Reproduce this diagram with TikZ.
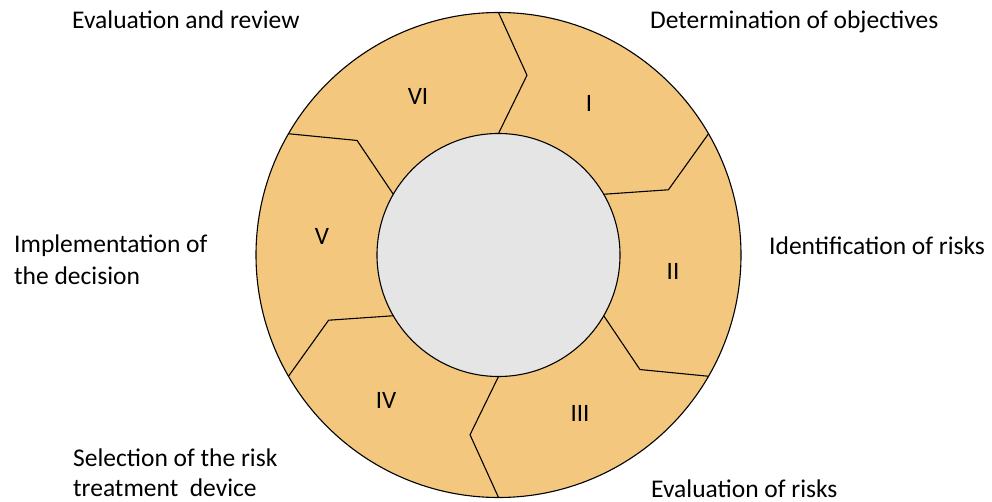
\documentclass[tikz,border=0pt]{standalone}
\usepackage{fontspec}
\setmainfont{Carlito}
\definecolor{ringfill}{RGB}{243,200,126}
\definecolor{hubfill}{RGB}{229,229,229}
\begin{document}
\begin{tikzpicture}[x=1pt,y=1pt,
  lbl/.style={font=\fontsize{25.5}{32}\selectfont, inner sep=0pt, text=black},
  roman/.style={font=\fontsize{25}{28}\selectfont, inner sep=0pt},
  edge/.style={draw=black, line width=1.1pt, line join=miter}]
\useasboundingbox (0,0) rectangle (992,501);
\coordinate (c) at (498.5,246);
\node[circle, draw=black, line width=1.1pt, fill=ringfill, minimum size=485pt, inner sep=0pt] (outer) at (c) {};
\begin{scope}[shift={(c)}]
  \foreach \t [count=\i] in {90,30,-30,-90,-150,150} {
    \coordinate (in\i) at (\t:121.5);
    \coordinate (k\i) at (\t-9:182);
    \coordinate (out\i) at (\t:242.5);
    \draw[edge] (in\i) -- (k\i) -- (out\i);
  }
\end{scope}
\node[circle, draw=black, line width=1.1pt, fill=hubfill, minimum size=243pt, inner sep=0pt] (hub) at (c) {};
\node[roman] (r1) at (589,398) {I};
\node[roman] (r2) at (673,230) {II};
\node[roman] (r3) at (580,88) {III};
\node[roman] (r4) at (386,101) {IV};
\node[roman] (r5) at (322,265) {V};
\node[roman] (r6) at (418,405) {VI};
\node[lbl, anchor=base west] (t6) at (72,472) {Evaluation and review};
\node[lbl, anchor=base west] (t1) at (650,472) {Determination of objectives};
\node[lbl, anchor=base west] (t2) at (769,246) {Identification of risks};
\node[lbl, anchor=north west, align=left] (t5) at (14,266) {Implementation of\\the decision};
\node[lbl, font=\fontsize{25.5}{30}\selectfont, anchor=north west, align=left] (t4) at (73,52) {Selection of the risk\\treatment\ \ device};
\node[lbl, anchor=base west] (t3) at (651,4) {Evaluation of risks};
\end{tikzpicture}
\end{document}
